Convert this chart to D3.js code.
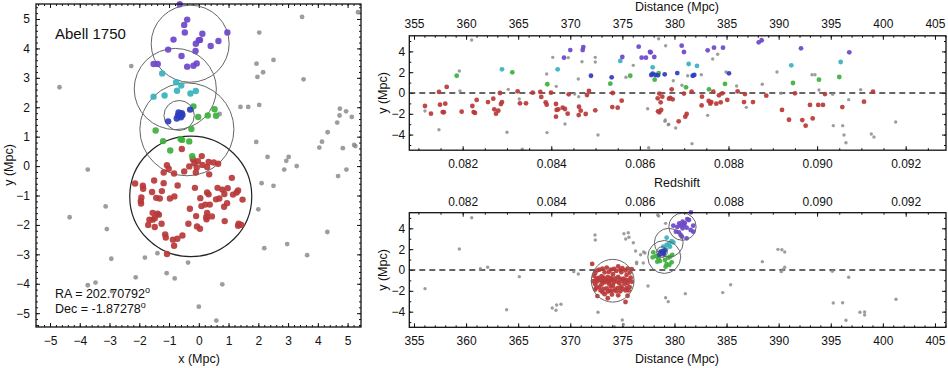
<!DOCTYPE html>
<html>
<head>
<meta charset="utf-8">
<script src="https://cdn.jsdelivr.net/npm/d3@7"></script>
<style>
  body { margin: 0; background: #fff; }
  text { font-family: "Liberation Sans", Arial, Helvetica, sans-serif; fill: #111; }
</style>
</head>
<body>
<script>
// ---- sky plane (x, y in Mpc) ----
const leftRed = [[-0.57,0.58],[0.10,0.34],[-0.20,0.23],[-0.03,0.17],[-0.15,0.10],[0.33,0.14],[0.50,0.12],[0.65,0.08],
  [-1.07,0.03],[-0.32,-0.01],[0.12,0.04],[-0.07,-0.05],[0.28,-0.03],[-1.01,-0.09],[-1.18,-0.22],[-0.83,-0.25],
  [-0.49,-0.18],[-0.10,-0.22],[0.35,-0.28],[1.11,-0.40],[-2.14,-0.59],[-1.50,-0.49],[-1.18,-0.58],[-0.71,-0.66],
  [-1.88,-0.67],[-0.13,-0.74],[0.63,-0.74],[0.79,-0.80],[0.97,-0.75],[1.32,-0.83],[-1.87,-0.77],[-1.57,-0.88],
  [-1.24,-0.85],[1.27,-0.90],[1.15,-0.97],[0.28,-0.90],[0.33,-0.96],[0.86,-0.95],[-1.93,-1.07],[-1.43,-1.08],
  [-1.31,-1.10],[-0.97,-1.10],[-0.82,-1.03],[0.05,-1.09],[0.58,-1.13],[0.69,-1.10],[1.47,-1.14],[-1.95,-1.19],
  [-1.94,-1.27],[0.95,-1.26],[0.09,-1.36],[0.22,-1.31],[0.37,-1.31],[-0.30,-1.45],[0.85,-1.38],[-1.55,-1.59],
  [-1.39,-1.62],[-1.48,-1.77],[-1.34,-1.65],[-1.55,-1.82],[-0.09,-1.70],[0.28,-1.59],[0.25,-1.73],[0.44,-1.71],
  [0.26,-1.81],[-1.66,-1.82],[-1.25,-1.96],[-1.70,-2.00],[-1.48,-2.07],[-0.35,-1.96],[-0.06,-2.05],[0.04,-2.13],
  [0.87,-1.87],[1.34,-1.96],[1.32,-2.03],[1.43,-2.00],[-1.13,-2.32],[-1.11,-2.43],[-0.87,-2.50],[-0.72,-2.47],
  [-0.55,-2.36],[-0.83,-2.71],[-1.07,-2.99]];
const leftPurple = [[-0.64,5.50],[-0.39,4.98],[-0.49,4.80],[-0.47,4.54],[0.12,4.50],[0.96,4.54],[-0.85,4.30],[0.00,4.28],
  [-0.10,4.16],[0.66,4.25],[0.40,4.08],[-1.03,3.96],[-0.11,3.91],[-0.58,3.74],[-1.52,3.47],[-1.38,3.47],
  [-0.07,3.49],[-0.18,3.41],[-0.39,3.38],[0.04,4.29]];
const leftCyan = [[-1.23,3.15],[-0.76,2.85],[-0.59,2.74],[-0.73,2.56],[-1.15,2.40],[-1.52,2.36],[-0.28,2.47],[-0.10,2.55]];
const leftGreen = [[-0.18,2.03],[-0.02,1.67],[0.30,1.72],[0.53,1.93],[0.58,1.71],[-1.45,1.21],[-0.25,1.26],[-1.20,0.85],
  [-0.61,0.92],[-0.56,0.89],[-0.32,0.84],[-0.96,0.53],[-0.22,0.34]];
const leftBlue = [[-0.29,1.92],[-1.03,1.52],[-0.70,1.72],[-0.62,1.78],[-0.55,1.74],[-0.74,1.62],[-0.60,1.66],[-0.66,1.70],
  [-0.57,1.80],[-0.68,1.82]];
const leftGray = [[-4.68,2.68],[-2.27,3.40],[-3.73,-0.12],[0.70,1.77],[2.03,4.54],[3.47,5.07],[5.35,5.23],[1.94,3.48],
  [2.51,3.61],[2.16,3.19],[1.97,3.03],[3.52,2.95],[1.40,2.01],[1.66,2.01],[2.03,2.08],[1.93,0.82],[2.31,0.31],
  [3.02,0.31],[2.94,0.18],[3.29,0.00],[2.87,-0.12],[4.74,1.95],[4.95,1.86],[4.73,1.72],[5.14,1.67],[4.65,1.48],
  [4.33,1.15],[4.14,0.83],[4.05,0.63],[4.84,0.61],[5.22,0.72],[5.26,0.68],[4.68,-0.34],[4.96,-0.12],[2.11,-0.58],
  [2.51,-0.67],[-4.34,-1.74],[-3.13,-1.37],[-3.09,-2.14],[-2.94,-3.15],[-1.39,-2.96],[-1.81,-3.11],[-0.36,-3.28],
  [-2.12,-3.78],[-1.08,-3.64],[-0.81,-3.82],[-3.73,-4.05],[-3.47,-3.96],[0.79,-4.02],[0.00,-4.78],[0.59,-5.25],
  [2.00,-1.47],[2.20,-2.79],[2.97,-2.65],[3.64,-3.03],[4.32,-2.24],[-2.92,-4.25]];

// ---- redshift vs y ----
const zRed = [[0.081149,-1.25],[0.081284,-1.99],[0.081465,0.10],[0.081488,-1.12],[0.081607,-1.03],[0.081549,-1.83],
  [0.081575,-1.85],[0.081639,0.58],[0.081977,-1.80],[0.082218,-1.25],[0.082248,-1.83],[0.082278,-1.92],[0.082316,-0.67],
  [0.082571,-0.87],[0.082691,-0.55],[0.082714,-1.57],[0.082752,-1.99],[0.082804,-1.70],[0.082842,0.00],[0.082864,-1.06],
  [0.082887,-0.87],[0.083241,0.16],[0.083293,-0.99],[0.083429,-0.99],[0.083580,0.03],[0.083752,0.10],[0.083774,-0.38],
  [0.083874,-0.90],[0.083896,-1.12],[0.083993,0.03],[0.084106,-1.06],[0.084121,-1.63],[0.084158,-1.57],[0.084106,-2.28],
  [0.084257,-1.41],[0.084309,-1.54],[0.084370,-1.99],[0.084393,-0.13],[0.084625,-1.32],[0.084664,-1.70],[0.084619,-2.12],
  [0.084777,-2.02],[0.084806,-0.19],[0.084851,0.19],[0.084993,-1.67],[0.085377,-1.35],[0.085499,-1.41],[0.085386,0.00],
  [0.085589,-0.74],[0.086402,-0.51],[0.086438,-0.06],[0.086506,-0.35],[0.086410,-1.76],[0.086440,-1.86],[0.086480,-1.63],
  [0.086469,-0.90],[0.086657,-0.55],[0.086718,0.35],[0.086686,-0.48],[0.086740,-0.61],[0.086876,-2.72],[0.086995,-0.06],
  [0.087169,0.13],[0.087056,-2.02],[0.087025,-2.28],[0.087402,-0.35],[0.087394,-1.19],[0.087553,-0.77],[0.087612,-0.87],
  [0.087657,0.13],[0.087589,-1.03],[0.087725,-1.03],[0.087785,-0.22],[0.087861,-0.03],[0.087824,-0.90],[0.087973,-0.67],
  [0.088207,0.16],[0.088372,-0.10],[0.088350,-0.87],[0.088553,-0.87],[0.088853,-0.26],[0.089208,-1.63],[0.089366,-2.57],
  [0.089501,-0.03],[0.089666,-2.60],[0.089742,-3.14],[0.089840,-1.15],[0.089901,-2.44],[0.090027,-1.15],[0.090133,-1.15],
  [0.090178,-0.10],[0.090569,-1.35],[0.091059,-0.83],[0.091262,0.13]];
const zPurple = [[0.084287,3.40],[0.084429,4.13],[0.084723,4.42],[0.084709,4.13],[0.085603,3.46],[0.085973,4.45],
  [0.086228,3.94],[0.086040,3.40],[0.086137,3.40],[0.086325,3.46],[0.086244,3.91],[0.086944,4.55],[0.086995,3.94],
  [0.087530,4.10],[0.087673,4.36],[0.087876,4.36],[0.088682,4.87],[0.088749,5.07],[0.089637,4.30],[0.090727,3.91]];
const zCyan = [[0.082887,2.28],[0.084144,2.28],[0.085558,3.08],[0.086289,2.47],[0.087101,2.79],[0.087289,2.60],
  [0.089418,2.66],[0.090533,2.98]];
const zGreen = [[0.081865,1.66],[0.083120,1.99],[0.083910,0.84],[0.085332,0.90],[0.085783,1.66],[0.086424,1.92],
  [0.086334,1.28],[0.087041,0.55],[0.087560,0.35],[0.087921,0.87],[0.089456,0.96],[0.090043,1.28],[0.090501,1.54]];
const zBlue = [[0.084896,1.66],[0.085363,1.51],[0.086257,1.73],[0.086289,1.86],[0.086348,1.73],[0.086408,1.70],
  [0.086560,1.80],[0.086844,1.92],[0.087192,1.66],[0.087228,1.73],[0.088011,1.89]];
const zGray = [[0.081149,-1.73],[0.081465,-3.53],[0.081923,2.12],[0.081939,0.19],[0.082203,5.10],[0.083000,-3.78],
  [0.083029,0.35],[0.083278,-0.58],[0.083345,-5.41],[0.083896,1.83],[0.083903,-3.81],[0.084032,3.43],[0.084113,0.64],
  [0.084309,-2.98],[0.084384,3.40],[0.084528,-0.10],[0.084610,1.35],[0.084619,-0.35],[0.084693,3.01],[0.084993,3.43],
  [0.084993,2.98],[0.085054,-4.04],[0.085686,1.51],[0.085851,2.66],[0.086176,-1.51],[0.086199,-5.26],[0.086424,5.22],
  [0.086582,4.55],[0.086566,-2.72],[0.086641,-3.05],[0.086754,1.18],[0.086573,-2.60],[0.086650,-3.01],[0.086808,-3.37],
  [0.086950,0.74],[0.087079,1.66],[0.087176,-4.87],[0.087386,1.76],[0.087643,3.27],[0.087756,3.72],[0.087530,-2.15],
  [0.087943,2.02],[0.088184,0.67],[0.088402,-1.38],[0.088763,0.84],[0.089095,2.02],[0.089185,-0.03],[0.089885,1.76],
  [0.089952,1.76],[0.090043,0.29],[0.090352,-0.13],[0.090366,-3.14],[0.090578,-3.14],[0.090607,-4.04],[0.090652,-4.78],
  [0.090713,-0.64],[0.090984,0.32],[0.091224,-3.94],[0.091284,-4.23],[0.091774,-2.79]];

// ---- distance vs y ----
const dRed = [[372.1,0.58],[374.6,0.34],[373.5,0.23],[375.0,0.17],[374.2,0.10],[375.5,0.14],[373.1,0.12],[375.9,0.08],
  [372.8,0.03],[374.8,-0.01],[373.9,0.04],[375.3,-0.05],[372.6,-0.03],[374.4,-0.09],[373.3,-0.22],[375.7,-0.25],
  [373.7,-0.18],[374.9,-0.22],[372.4,-0.28],[374.1,-0.40],[373.0,-0.59],[375.4,-0.49],[372.3,-0.58],[374.6,-0.66],
  [373.6,-0.67],[375.8,-0.74],[373.2,-0.74],[374.3,-0.80],[372.7,-0.75],[375.1,-0.83],[373.9,-0.77],[372.5,-0.88],
  [374.8,-0.85],[373.4,-0.90],[375.6,-0.97],[374.0,-0.90],[372.9,-0.96],[375.3,-0.95],[373.6,-1.07],[372.2,-1.08],
  [374.5,-1.10],[373.1,-1.10],[375.0,-1.03],[373.8,-1.09],[375.9,-1.13],[372.6,-1.10],[374.2,-1.14],[373.3,-1.19],
  [375.5,-1.27],[374.7,-1.26],[372.4,-1.36],[373.7,-1.31],[375.2,-1.31],[374.1,-1.45],[373.0,-1.38],[374.9,-1.59],
  [372.8,-1.62],[373.5,-1.77],[375.7,-1.65],[374.3,-1.82],[372.5,-1.70],[373.9,-1.59],[375.4,-1.73],[374.6,-1.71],
  [373.2,-1.81],[375.0,-1.82],[372.9,-1.96],[374.0,-2.00],[373.6,-2.07],[375.6,-1.96],[374.8,-2.05],[373.1,-2.13],
  [372.4,-1.87],[375.3,-1.96],[374.4,-2.03],[373.8,-2.00],[373.3,-2.32],[374.6,-2.43],[372.6,-2.50],[375.5,-2.47],
  [374.0,-2.36],[373.6,-2.71],[375.3,-3.07]];
const dPurple = [[381.58,5.54],[381.23,4.89],[381.39,4.80],[380.46,4.48],[380.78,4.64],[380.91,4.32],[380.59,4.25],
  [380.27,4.13],[380.78,4.00],[381.17,4.06],[381.55,3.84],[381.80,3.68],[380.14,3.68],[380.43,3.62],[380.59,3.36],
  [380.72,3.20],[381.17,3.04],[379.89,4.25],[381.80,4.25],[381.00,4.50]];
const dCyan = [[379.25,3.10],[379.73,2.78],[379.89,2.66],[379.50,2.56],[379.25,2.40],[378.93,2.24],[379.57,2.24],
  [379.18,1.98]];
const dGreen = [[377.97,1.70],[377.91,1.22],[378.45,1.12],[378.61,0.86],[378.35,0.80],[379.09,0.96],[379.41,1.18],
  [379.57,1.28],[379.79,1.44],[379.25,0.55],[379.15,0.32],[379.50,0.48],[379.73,0.74],[378.22,1.34]];
const dBlue = [[378.67,1.76],[378.87,1.82],[378.99,1.70],[378.73,1.56],[378.93,1.50],[378.54,1.44],[379.09,1.89],
  [378.80,1.66],[378.62,1.62],[378.95,1.60]];
const dGray = [[356.06,-1.79],[359.35,2.02],[360.54,5.02],[361.37,0.13],[362.07,0.26],[363.89,-3.81],[365.11,-0.64],
  [370.33,-0.16],[370.77,-0.38],[368.27,-3.65],[368.69,-3.36],[369.11,-3.29],[368.63,-3.87],[372.37,3.36],[372.40,2.88],
  [372.66,-4.06],[375.15,3.49],[375.32,2.97],[375.57,3.58],[375.63,3.14],[376.05,2.62],[376.27,1.82],[376.37,0.74],
  [376.37,0.61],[376.75,1.47],[377.04,1.73],[377.17,1.63],[377.01,0.67],[377.46,-1.54],[374.99,-4.80],[375.09,-5.22],
  [374.22,-5.44],[378.39,5.28],[378.48,5.18],[379.15,4.48],[379.15,-2.66],[379.40,-3.04],[381.04,-2.27],[384.63,-2.17],
  [385.39,-1.41],[388.43,0.80],[389.93,1.98],[390.31,1.95],[390.58,1.73],[390.58,0.26],[390.41,0.03],[390.25,-0.16],
  [395.15,-0.13],[396.72,-0.70],[395.24,-3.17],[396.14,-3.14],[396.46,-4.83],[397.80,-4.06],[398.25,-4.03],[398.25,-4.32],
  [401.26,-2.81]];

// ---- group circles (centre, radius in Mpc) ----
const circleColor = ["red", "green", "cyan", "purple", "blue"];
const circleX = [-0.27, -0.40, -0.79, -0.29, -0.66];
const circleY = [-1.03, 1.25, 2.62, 4.16, 1.72];
const circleDist = [374.07, 379.02, 379.45, 380.77, 378.80];
const circleR = [2.05, 1.58, 1.38, 1.31, 0.51];

const colors = {red: "#b93838", purple: "#6d45c9", cyan: "#36b2bb", green: "#3bb03c", blue: "#2e3cbf", gray: "#8c8c8c"};

const drawChart = () => {
    const svg = d3.select("body").append("svg")
        .attr("width", 948)
        .attr("height", 368);

    const lx = d3.scaleLinear().domain([-5.47, 5.45]).range([36, 361]);
    const ly = d3.scaleLinear().domain([-5.47, 5.51]).range([327, 4]);
    const zx = d3.scaleLinear().domain([0.080795, 0.09291]).range([409.3, 946]);
    const dx = d3.scaleLinear().domain([354.55, 406.06]).range([409.3, 946]);
    const ty = d3.scaleLinear().domain([-5.5, 5.5]).range([150.2, 35.8]);
    const by = d3.scaleLinear().domain([-5.5, 5.5]).range([327.3, 212.7]);

    // one set of inward ticks on one side of a frame
    const side = (axisFn, scale, at, major, minor, fmt, pad) => {
        const g = svg.append("g").attr("transform", at);
        g.append("g").call(axisFn(scale).tickValues(minor).tickSize(-2).tickFormat(""));
        g.append("g").call(axisFn(scale).tickValues(major).tickSize(-4).tickPadding(pad).tickFormat(fmt || ""));
        g.selectAll(".domain").remove();
        g.selectAll("line").attr("stroke", "#111");
        g.selectAll("text").attr("font-size", 12).attr("font-family", null);
    };
    const frame = (x0, y0, x1, y1) => {
        svg.append("rect").attr("x", x0).attr("y", y0).attr("width", x1 - x0).attr("height", y1 - y0)
            .attr("fill", "none").attr("stroke", "#111").attr("stroke-width", 1.3);
    };
    const label = (x, y, txt, rot) => {
        svg.append("text")
            .attr("transform", "translate(" + x + "," + y + ")" + (rot ? " rotate(-90)" : ""))
            .attr("text-anchor", "middle").attr("dy", "0.35em")
            .attr("font-size", 12.5).text(txt);
    };

    // ---------- left panel ----------
    const lMajor = d3.range(-5, 6);
    const lMinor = d3.range(-27, 28).map(i => i / 5);
    const intFmt = d3.format("d");
    side(d3.axisBottom, lx, "translate(0,327)", lMajor, lMinor, intFmt, 9);
    side(d3.axisTop, lx, "translate(0,4)", lMajor, lMinor, null, 3);
    side(d3.axisLeft, ly, "translate(36,0)", lMajor, lMinor, intFmt, 6);
    side(d3.axisRight, ly, "translate(361,0)", lMajor, lMinor, null, 3);

    svg.selectAll(".lcirc")
        .data(circleColor)
        .enter()
        .append("ellipse")
        .attr("cx", (d, i) => lx(circleX[i]))
        .attr("cy", (d, i) => ly(circleY[i]))
        .attr("rx", (d, i) => lx(circleR[i]) - lx(0))
        .attr("ry", (d, i) => ly(0) - ly(circleR[i]))
        .attr("fill", "none")
        .attr("stroke", d => d === "red" ? "#222" : "#666")
        .attr("stroke-width", d => d === "red" ? 1.2 : 1);

    const dots = (data, xs, ys, color, r) => {
        svg.append("g").selectAll("circle")
            .data(data)
            .enter()
            .append("circle")
            .attr("cx", d => xs(d[0]))
            .attr("cy", d => ys(d[1]))
            .attr("r", r)
            .attr("fill", color)
            .attr("fill-opacity", color === colors.gray ? 0.85 : 0.92);
    };

    dots(leftGray, lx, ly, colors.gray, 2.4);
    dots(leftRed, lx, ly, colors.red, 3.2);
    dots(leftGreen, lx, ly, colors.green, 3.2);
    dots(leftCyan, lx, ly, colors.cyan, 3.2);
    dots(leftPurple, lx, ly, colors.purple, 3.2);
    dots(leftBlue, lx, ly, colors.blue, 3.2);

    frame(36, 4, 361, 327);
    label(199, 359, "x (Mpc)");
    label(9, 165, "y (Mpc)", true);

    svg.append("text").attr("x", 55).attr("y", 38.5).attr("font-size", 15).text("Abell 1750");
    const ra = svg.append("text").attr("x", 55).attr("y", 297.5).attr("font-size", 12.5);
    ra.append("tspan").text("RA = 202.70792");
    ra.append("tspan").attr("font-size", 9).attr("dy", -5).text("o");
    const dec = svg.append("text").attr("x", 55).attr("y", 312.7).attr("font-size", 12.5);
    dec.append("tspan").text("Dec = -1.87278");
    dec.append("tspan").attr("font-size", 9).attr("dy", -5).text("o");

    // ---------- right panels: shared tick sets ----------
    const dMajor = d3.range(355, 406, 5);
    const dMinor = d3.range(355, 407);
    const zMajor = [0.082, 0.084, 0.086, 0.088, 0.090, 0.092];
    const zMinor = d3.range(162, 186).map(i => i * 0.0005);
    const yMajor = [-4, -2, 0, 2, 4];
    const yMinor = d3.range(-5, 6);
    const zFmt = d3.format(".3f");

    // top right: redshift
    side(d3.axisTop, dx, "translate(0,35.8)", dMajor, dMinor, intFmt, 8);
    side(d3.axisBottom, zx, "translate(0,150.2)", zMajor, zMinor, zFmt, 9);
    side(d3.axisLeft, ty, "translate(409.3,0)", yMajor, yMinor, intFmt, 4);
    side(d3.axisRight, ty, "translate(946,0)", yMajor, yMinor, null, 3);

    svg.append("line")
        .attr("x1", zx.range()[0]).attr("x2", zx.range()[1])
        .attr("y1", ty(0)).attr("y2", ty(0))
        .attr("stroke", "#333").attr("stroke-width", 1.3).attr("stroke-dasharray", "6,4");

    dots(zGray, zx, ty, colors.gray, 1.7);
    dots(zRed, zx, ty, colors.red, 2.4);
    dots(zGreen, zx, ty, colors.green, 2.4);
    dots(zCyan, zx, ty, colors.cyan, 2.4);
    dots(zPurple, zx, ty, colors.purple, 2.4);
    dots(zBlue, zx, ty, colors.blue, 2.4);

    frame(409.3, 35.8, 946, 150.2);
    label(677, 7, "Distance (Mpc)");
    label(383, 93, "y (Mpc)", true);
    label(677, 183, "Redshift");

    // bottom right: distance
    side(d3.axisTop, zx, "translate(0,212.7)", zMajor, zMinor, zFmt, 7);
    side(d3.axisBottom, dx, "translate(0,327.3)", dMajor, dMinor, intFmt, 9);
    side(d3.axisLeft, by, "translate(409.3,0)", yMajor, yMinor, intFmt, 4);
    side(d3.axisRight, by, "translate(946,0)", yMajor, yMinor, null, 3);

    svg.append("line")
        .attr("x1", dx.range()[0]).attr("x2", dx.range()[1])
        .attr("y1", by(0)).attr("y2", by(0))
        .attr("stroke", "#333").attr("stroke-width", 1.3).attr("stroke-dasharray", "6,4");

    dots(dGray, dx, by, colors.gray, 1.7);
    dots(dRed, dx, by, colors.red, 2.4);
    dots(dGreen, dx, by, colors.green, 2.4);
    dots(dCyan, dx, by, colors.cyan, 2.4);
    dots(dPurple, dx, by, colors.purple, 2.4);
    dots(dBlue, dx, by, colors.blue, 2.4);

    svg.selectAll(".bcirc")
        .data(circleColor)
        .enter()
        .append("ellipse")
        .attr("cx", (d, i) => dx(circleDist[i]))
        .attr("cy", (d, i) => by(circleY[i]))
        .attr("rx", (d, i) => dx(circleDist[i] + circleR[i]) - dx(circleDist[i]))
        .attr("ry", (d, i) => by(0) - by(circleR[i]))
        .attr("fill", "none")
        .attr("stroke", "#666")
        .attr("stroke-width", 1);

    frame(409.3, 212.7, 946, 327.3);
    label(677, 359, "Distance (Mpc)");
    label(383, 270, "y (Mpc)", true);
};

drawChart();
</script>
</body>
</html>
